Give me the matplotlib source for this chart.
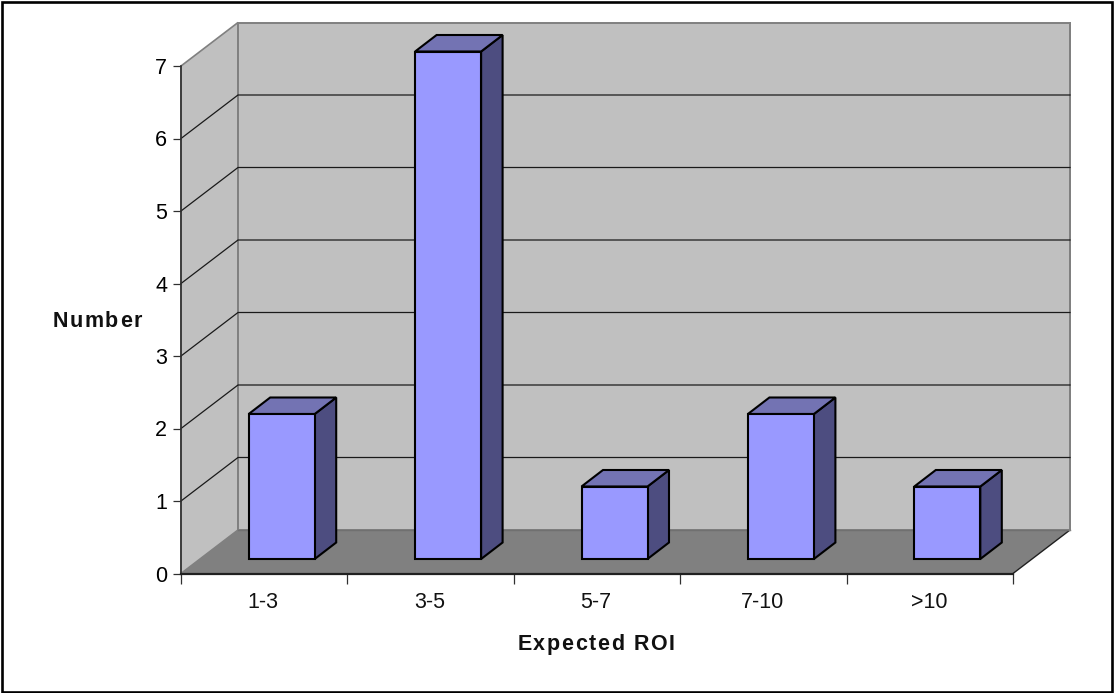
import matplotlib
matplotlib.use("Agg")
import matplotlib.pyplot as plt
from matplotlib.patches import Polygon, Rectangle
from matplotlib.textpath import TextPath
from matplotlib.font_manager import FontProperties

categories = ["1-3", "3-5", "5-7", "7-10", ">10"]
values = [2, 7, 1, 2, 1]

W, H = 1114, 693
plt.rcParams['font.family'] = ['Liberation Sans', 'DejaVu Sans']

fig = plt.figure(figsize=(W / 100, H / 100), dpi=100, facecolor="white")

# outer chart frame
fig.add_artist(Rectangle((2.0 / W, 1.3 / H), 1110 / W, 690 / H, transform=fig.transFigure,
                         fill=False, ec="black", lw=1.9))

# axes covers the front plane of the 3d box
ax = fig.add_axes([181 / W, 1 - 573.5 / H, 832 / W, 507.5 / H])
ax.set_xlim(0, len(categories))
ax.set_ylim(0, 7)
ax.patch.set_visible(False)
for s in ax.spines.values():
    s.set_visible(False)

# depth of the box and of the bars, in data units
ux = 832 / 5
uy = 507.5 / 7
dx, dy = 57 / ux, 43.5 / uy
bar_w = 66 / ux
bar_x = 17.5 / ux
bar_y = 14.5 / uy
bar_dx, bar_dy = 21.5 / ux, 16.5 / uy
n = len(categories)
top = 7


def poly(pts, **kw):
    p = Polygon(pts, closed=True, clip_on=False, **kw)
    ax.add_patch(p)


def spaced_text(cx, cy, s, size, gap):
    # bold title with extra room between the letters, placed char by char (pixels)
    fp = FontProperties(family="Liberation Sans", weight="bold", size=size)
    widths = []
    for ch in s:
        # advance width of the character, spaces have no extent so measure with a pair
        w = TextPath((0, 0), "H" + ch + "H", prop=fp).get_extents().width
        w -= TextPath((0, 0), "HH", prop=fp).get_extents().width
        widths.append(w * 100 / 72)
    total = sum(widths) + gap * (len(s) - 1)
    x = cx - total / 2
    for ch, w in zip(s, widths):
        fig.text(x / W, 1 - cy / H, ch, ha="left", va="baseline", fontproperties=fp, color="#111111")
        x += w + gap


# walls and floor
poly([(0, 0), (dx, dy), (dx, top + dy), (0, top)], fc="#c0c0c0", ec="#808080", lw=1.2, zorder=1)
poly([(dx, dy), (n + dx, dy), (n + dx, top + dy), (dx, top + dy)], fc="#c0c0c0", ec="#808080", lw=1.4, zorder=1)
poly([(0, 0), (n, 0), (n + dx, dy), (dx, dy)], fc="#808080", ec="none", zorder=1.5)
ax.plot([n, n + dx], [0, dy], color="#202020", lw=1, zorder=2, clip_on=False)
ax.plot([dx, n + dx], [dy, dy], color="#707070", lw=1, zorder=2, clip_on=False)
ax.plot([n + dx, n + dx], [dy, top + dy], color="#808080", lw=1.4, zorder=2, clip_on=False)

# gridlines on side and back wall
for v in range(1, top):
    ax.plot([0, dx, n + dx], [v, v + dy, v + dy], color="#1a1a1a", lw=0.9, zorder=2, clip_on=False)

# bars
for i, v in enumerate(values):
    x0 = i + (1 - bar_w) / 2 + bar_x
    x1 = x0 + bar_w
    y0 = bar_y
    y1 = v + bar_y
    line = dict(ec="black", lw=1.5, joinstyle="miter", zorder=4)
    poly([(x1, y0), (x1 + bar_dx, y0 + bar_dy), (x1 + bar_dx, y1 + bar_dy), (x1, y1)], fc="#4d4d80", **line)
    poly([(x0, y1), (x1, y1), (x1 + bar_dx, y1 + bar_dy), (x0 + bar_dx, y1 + bar_dy)], fc="#7373b3", **line)
    poly([(x0, y0), (x1, y0), (x1, y1), (x0, y1)], fc="#9999ff", **line)

# front axis lines
ax.plot([0, 0], [0, top], color="#303030", lw=1.2, zorder=5, clip_on=False)
ax.plot([0, n], [0, 0], color="#202020", lw=1.6, zorder=5, clip_on=False)

ax.set_yticks(range(0, top + 1))
ax.set_xticks(range(0, n + 1))
ax.set_xticklabels([])
ax.tick_params(axis="y", length=5.5, width=0.9, color="#303030", labelsize=15.5, pad=4.5)
ax.tick_params(axis="x", length=7, width=0.9, color="#303030", pad=3)

for i, c in enumerate(categories):
    ax.annotate(c, (i + 0.5, 0), xytext=(-0.7, -21), textcoords="offset points",
                ha="center", va="center", fontsize=15.5, color="#111111", annotation_clip=False)

spaced_text(97, 327, "Number", 15.5, 1.6)
spaced_text(596, 650, "Expected ROI", 15.5, 1.6)

fig.savefig("out.png", dpi=100, facecolor="white")
